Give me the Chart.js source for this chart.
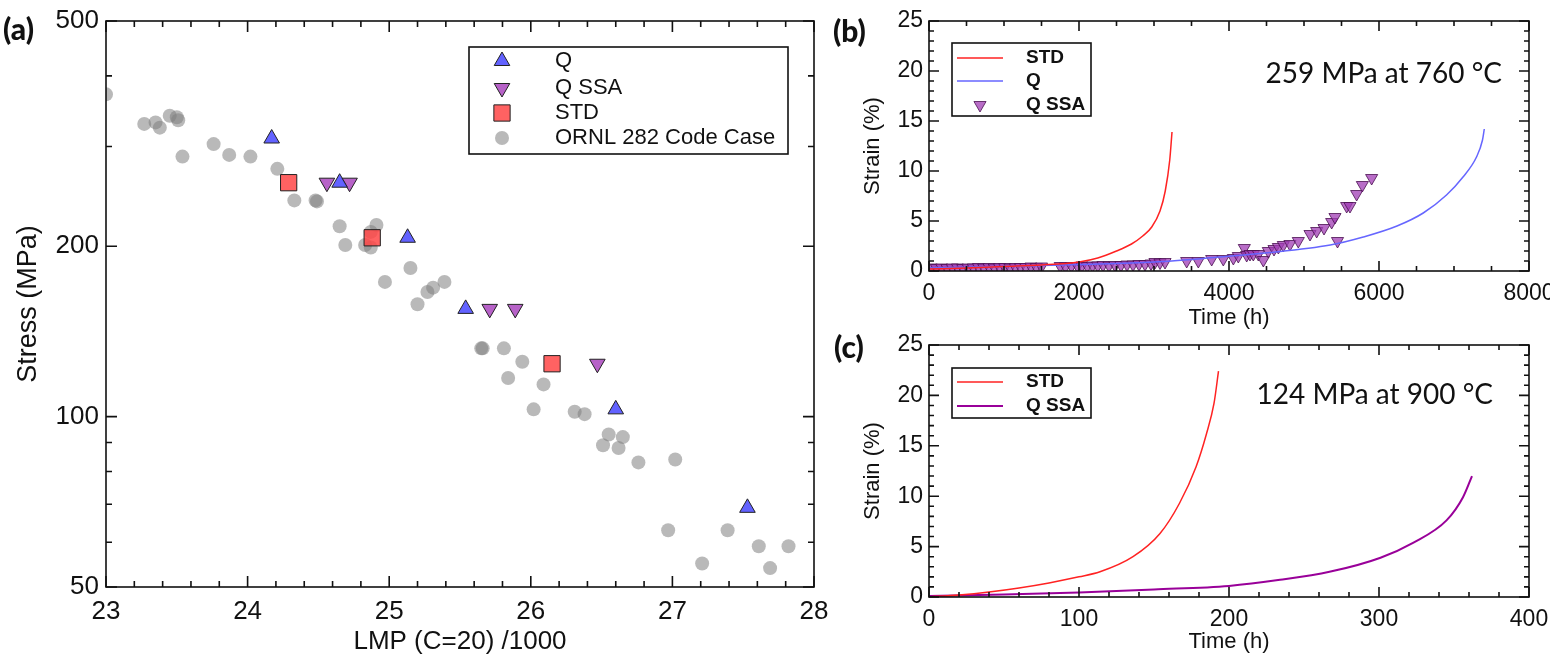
<!DOCTYPE html>
<html>
<head>
<meta charset="utf-8">
<script src="https://cdn.jsdelivr.net/npm/chart.js@4.4.1/dist/chart.umd.min.js"></script>
<style>
  body { margin: 0; background: #fff; width: 1550px; height: 660px; position: relative; overflow: hidden; }
  .panel { position: absolute; }
  .tag { position: absolute; font-family: Lato, "Open Sans", sans-serif; font-weight: 900; font-size: 30px; line-height: 1; color: #111; }
  .note { position: absolute; font-family: Lato, "Open Sans", sans-serif; font-size: 28px; line-height: 1; color: #111; white-space: nowrap; }
</style>
</head>
<body>
<div class="panel" style="left:0;top:0;width:830px;height:660px"><canvas id="chartA"></canvas></div>
<div class="panel" style="left:830px;top:0;width:720px;height:330px"><canvas id="chartB"></canvas></div>
<div class="panel" style="left:830px;top:330px;width:720px;height:330px"><canvas id="chartC"></canvas></div>
<div class="tag" style="left:3px;top:13px">(a)</div>
<div class="tag" style="left:833px;top:15px">(b)</div>
<div class="tag" style="left:834px;top:331px">(c)</div>
<div class="note" style="right:48px;top:58px">259 MPa at 760 °C</div>
<div class="note" style="right:57px;top:379px">124 MPa at 900 °C</div>
<script>
// ---- panel (a): stress vs LMP ----
const lmpTicks = [23, 24, 25, 26, 27, 28];
const stressTicks = [50, 100, 200, 500];

const qLmp = [24.17, 24.65, 25.13, 25.54, 26.60, 27.53];
const qStress = [310, 259, 207, 155, 103, 69];

const qssaLmp = [24.56, 24.72, 25.71, 25.89, 26.47];
const qssaStress = [259, 259, 155, 155, 124];

const stdLmp = [24.29, 24.88, 26.15];
const stdStress = [259, 207, 124];

const ornlLmp = [23.00, 23.27, 23.35, 23.38, 23.45, 23.50, 23.51, 23.54, 23.76, 23.87,
  24.02, 24.21, 24.33, 24.48, 24.49, 24.65, 24.69, 24.83, 24.87, 24.91, 24.87, 25.15,
  24.97, 25.20, 25.27, 25.31, 25.39, 25.65, 25.66, 25.81, 25.94, 25.84, 26.09, 26.02,
  26.31, 26.38, 26.55, 26.65, 26.51, 26.62, 26.76, 27.02, 26.97, 27.39, 27.21, 27.61,
  27.69, 27.82];
const ornlStress = [371, 329, 331, 324, 340, 338, 334, 288, 303, 290,
  288, 274, 241, 241, 240, 217, 201, 201, 199, 218, 212, 183,
  173, 158, 166, 169, 173, 132, 132, 132, 125, 117, 114, 103,
  102, 101, 93, 92, 89, 88, 83, 84, 63, 63, 55, 59,
  54, 59];

// ---- panel (b): 259 MPa at 760 C ----
const bTimeTicks = [0, 2000, 4000, 6000, 8000];
const strainTicks = [0, 5, 10, 15, 20, 25];

const bStdTime = [0, 500, 1000, 1500, 2000, 2250, 2500, 2700, 2850, 2970, 3080, 3150, 3210, 3240];
const bStdStrain = [0.2, 0.3, 0.45, 0.6, 0.9, 1.3, 2.0, 2.7, 3.5, 4.4, 6.0, 8.0, 11.1, 13.9];

const bQTime = [0, 1000, 2000, 3000, 3800, 4480, 5350, 5790, 6240, 6590, 6900, 7120, 7300, 7380, 7404];
const bQStrain = [0.3, 0.45, 0.65, 0.9, 1.35, 1.8, 2.6, 3.4, 4.5, 5.8, 7.6, 9.4, 11.4, 13.1, 14.2];

const bQssaTime = [30, 100, 170, 240, 310, 380, 450, 520, 590, 660, 730, 800, 870, 940,
  1010, 1080, 1150, 1220, 1290, 1360, 1430, 1500, 1750, 1820, 1900, 1980,
  2040, 2110, 2180, 2250, 2320, 2400, 2480, 2560, 2640, 2720, 2800, 2880, 2960, 3013, 3080, 3147,
  3436, 3591, 3769, 3924, 4058, 4124, 4204, 4236, 4280, 4324, 4391, 4458, 4524, 4600, 4658,
  4724, 4813, 4924, 5080, 5169, 5267, 5369, 5413, 5447, 5569, 5613, 5702, 5778, 5902];
const bQssaStrain = [0.35, 0.3, 0.35, 0.3, 0.35, 0.35, 0.3, 0.35, 0.35, 0.4, 0.35, 0.4, 0.35, 0.4,
  0.4, 0.35, 0.4, 0.4, 0.4, 0.45, 0.4, 0.45, 0.5, 0.45, 0.5, 0.5,
  0.55, 0.5, 0.55, 0.55, 0.6, 0.55, 0.6, 0.6, 0.65, 0.65, 0.7, 0.7, 0.75, 0.9, 0.85, 0.9,
  1.0, 1.0, 1.2, 1.2, 1.3, 1.5, 2.3, 1.6, 1.7, 1.7, 1.7, 1.1, 2.0, 2.2, 2.4,
  2.6, 2.7, 3.0, 3.7, 4.0, 4.3, 4.9, 5.4, 3.0, 6.5, 6.5, 7.7, 8.6, 9.3];

// ---- panel (c): 124 MPa at 900 C ----
const cTimeTicks = [0, 100, 200, 300, 400];

const cStdTime = [0, 20, 40, 60, 80, 100, 114, 136, 154, 167, 178, 185, 190, 193];
const cStdStrain = [0, 0.2, 0.5, 0.9, 1.4, 2.0, 2.5, 4.0, 6.3, 9.3, 12.9, 16.2, 19.2, 22.4];

const cQssaTime = [0, 50, 100, 150, 200, 234, 267, 301, 323, 345, 356, 362];
const cQssaStrain = [0.1, 0.25, 0.45, 0.75, 1.1, 1.7, 2.5, 3.9, 5.4, 7.6, 9.9, 12.0];

const pts = (xs, ys) => xs.map((x, i) => ({ x: x, y: ys[i] }));
const steps = (a, b, s) => { const out = []; for (let v = a; v <= b + 1e-9; v += s) out.push(+v.toFixed(6)); return out; };

Chart.defaults.font.family = '"Liberation Sans", Arial, sans-serif';
Chart.defaults.color = '#111';

// frame with inward ticks on all four sides
const frameTicks = {
  id: 'frameTicks',
  afterDraw(chart, args, o) {
    const { ctx, chartArea: a } = chart;
    const sx = chart.scales.x, sy = chart.scales.y;
    ctx.save();
    ctx.strokeStyle = '#111';
    ctx.lineWidth = 1.6;
    ctx.strokeRect(a.left, a.top, a.right - a.left, a.bottom - a.top);
    ctx.beginPath();
    const xt = (vals, len) => vals.forEach(v => {
      const p = sx.getPixelForValue(v);
      ctx.moveTo(p, a.bottom); ctx.lineTo(p, a.bottom - len);
      ctx.moveTo(p, a.top); ctx.lineTo(p, a.top + len);
    });
    const yt = (vals, len) => vals.forEach(v => {
      const p = sy.getPixelForValue(v);
      ctx.moveTo(a.left, p); ctx.lineTo(a.left + len, p);
      ctx.moveTo(a.right, p); ctx.lineTo(a.right - len, p);
    });
    xt(o.xMajor, o.major); xt(o.xMinor, o.minor);
    yt(o.yMajor, o.major); yt(o.yMinor, o.minor);
    ctx.stroke();
    ctx.restore();
  }
};

// boxed legend drawn with each dataset's own style
const boxLegend = {
  id: 'boxLegend',
  afterDraw(chart, args, o) {
    const ctx = chart.ctx;
    ctx.save();
    ctx.lineWidth = 1.6;
    ctx.strokeStyle = '#111';
    ctx.strokeRect(o.box[0], o.box[1], o.box[2], o.box[3]);
    ctx.font = o.font;
    ctx.textBaseline = 'middle';
    chart.data.datasets.forEach((ds, i) => {
      const y = o.rows[i];
      if (ds.showLine) {
        ctx.strokeStyle = ds.borderColor;
        ctx.lineWidth = ds.borderWidth;
        ctx.beginPath();
        ctx.moveTo(o.lineX[0], y); ctx.lineTo(o.lineX[1], y);
        ctx.stroke();
      } else {
        ctx.fillStyle = ds.backgroundColor;
        ctx.strokeStyle = ds.borderColor;
        ctx.lineWidth = ds.borderWidth;
        Chart.helpers.drawPoint(ctx, {
          pointStyle: ds.pointStyle, rotation: ds.pointRotation || 0,
          radius: ds.pointRadius, borderWidth: ds.borderWidth
        }, o.markX, y);
      }
      ctx.fillStyle = '#111';
      ctx.fillText(ds.label, o.textX, y);
    });
    ctx.restore();
  }
};

function fixScale(size, horizontal) {
  return s => {
    if (horizontal) s.height = size; else s.width = size;
    s.paddingLeft = s.paddingRight = s.paddingTop = s.paddingBottom = 0;
  };
}

// ---------- chart (a) ----------
new Chart(document.getElementById('chartA'), {
  type: 'scatter',
  data: {
    datasets: [
      { label: 'Q', data: pts(qLmp, qStress), pointStyle: 'triangle', pointRadius: 9,
        backgroundColor: 'rgba(70,70,255,0.85)', borderColor: '#222', borderWidth: 1 },
      { label: 'Q SSA', data: pts(qssaLmp, qssaStress), pointStyle: 'triangle', pointRotation: 180, pointRadius: 9,
        backgroundColor: 'rgba(170,70,190,0.85)', borderColor: '#222', borderWidth: 1 },
      { label: 'STD', data: pts(stdLmp, stdStress), pointStyle: 'rect', pointRadius: 11.5,
        backgroundColor: 'rgba(255,70,70,0.85)', borderColor: '#222', borderWidth: 1 },
      { label: 'ORNL 282 Code Case', data: pts(ornlLmp, ornlStress), pointStyle: 'circle', pointRadius: 7,
        backgroundColor: 'rgba(128,128,128,0.55)', borderColor: 'rgba(0,0,0,0)', borderWidth: 0 }
    ]
  },
  options: {
    animation: false,
    responsive: true,
    maintainAspectRatio: false,
    layout: { padding: { top: 21, right: 16, left: 0, bottom: 0 } },
    plugins: {
      legend: { display: false },
      tooltip: { enabled: false },
      frameTicks: {
        major: 11, minor: 6,
        xMajor: lmpTicks, xMinor: steps(23, 28, 0.2).filter(v => !lmpTicks.includes(v)),
        yMajor: stressTicks, yMinor: [60, 70, 80, 90, 300, 400]
      },
      boxLegend: {
        box: [469, 47, 319, 107], rows: [61, 88, 113, 138],
        markX: 502, textX: 555, lineX: [480, 525], font: '22px "Liberation Sans", Arial, sans-serif'
      }
    },
    scales: {
      x: {
        type: 'linear', min: 23, max: 28,
        afterFit: fixScale(73, true),
        afterBuildTicks: s => { s.ticks = lmpTicks.map(v => ({ value: v })); },
        grid: { display: false, drawTicks: false }, border: { display: false },
        ticks: { padding: 9, font: { size: 26 }, color: '#111' },
        title: { display: true, text: 'LMP (C=20) /1000', font: { size: 26, lineHeight: 1 }, padding: { bottom: 5 }, color: '#111' }
      },
      y: {
        type: 'logarithmic', min: 50, max: 500,
        afterFit: fixScale(106, false),
        afterBuildTicks: s => { s.ticks = stressTicks.map(v => ({ value: v })); },
        grid: { display: false, drawTicks: false }, border: { display: false },
        ticks: { padding: 7, font: { size: 26 }, color: '#111', callback: v => String(v) },
        title: { display: true, text: 'Stress (MPa)', font: { size: 27, lineHeight: 1 }, padding: { top: 15 }, color: '#111' }
      }
    }
  },
  plugins: [frameTicks, boxLegend]
});

// shared options for the two strain charts
function strainOptions(xMax, xTicks, xMinorStep, top, xHeight, titlePad, legend) {
  return {
    animation: false,
    responsive: true,
    maintainAspectRatio: false,
    layout: { padding: { top: top, right: 21, left: 0, bottom: 0 } },
    plugins: {
      legend: { display: false },
      tooltip: { enabled: false },
      frameTicks: {
        major: 10, minor: 5,
        xMajor: xTicks, xMinor: steps(0, xMax, xMinorStep).filter(v => !xTicks.includes(v)),
        yMajor: strainTicks, yMinor: steps(0, 25, 1).filter(v => !strainTicks.includes(v))
      },
      boxLegend: legend
    },
    scales: {
      x: {
        type: 'linear', min: 0, max: xMax,
        afterFit: fixScale(xHeight, true),
        afterBuildTicks: s => { s.ticks = xTicks.map(v => ({ value: v })); },
        grid: { display: false, drawTicks: false }, border: { display: false },
        ticks: { padding: 9, font: { size: 23 }, color: '#111', callback: v => String(v) },
        title: { display: true, text: 'Time (h)', font: { size: 22, lineHeight: 1 }, padding: { bottom: titlePad }, color: '#111' }
      },
      y: {
        type: 'linear', min: 0, max: 25,
        afterFit: fixScale(99, false),
        afterBuildTicks: s => { s.ticks = strainTicks.map(v => ({ value: v })); },
        grid: { display: false, drawTicks: false }, border: { display: false },
        ticks: { padding: 6, font: { size: 23 }, color: '#111' },
        title: { display: true, text: 'Strain (%)', font: { size: 22, lineHeight: 1 }, padding: { top: 32 }, color: '#111' }
      }
    }
  };
}

// ---------- chart (b) ----------
new Chart(document.getElementById('chartB'), {
  type: 'scatter',
  data: {
    datasets: [
      { label: 'STD', data: pts(bStdTime, bStdStrain), showLine: true, pointRadius: 0,
        borderColor: '#ff2222', borderWidth: 1.5, cubicInterpolationMode: 'monotone' },
      { label: 'Q', data: pts(bQTime, bQStrain), showLine: true, pointRadius: 0,
        borderColor: '#6666ff', borderWidth: 1.5, cubicInterpolationMode: 'monotone' },
      { label: 'Q SSA', data: pts(bQssaTime, bQssaStrain), pointStyle: 'triangle', pointRotation: 180, pointRadius: 7,
        backgroundColor: 'rgba(160,60,180,0.75)', borderColor: '#4a1050', borderWidth: 0.8 }
    ]
  },
  options: strainOptions(8000, bTimeTicks, 500, 21, 59, 1, {
    box: [122, 43, 139, 73], rows: [58, 81, 105],
    markX: 150, textX: 196, lineX: [127, 173], font: 'bold 19px "Liberation Sans", Arial, sans-serif'
  }),
  plugins: [frameTicks, boxLegend]
});

// ---------- chart (c) ----------
new Chart(document.getElementById('chartC'), {
  type: 'scatter',
  data: {
    datasets: [
      { label: 'STD', data: pts(cStdTime, cStdStrain), showLine: true, pointRadius: 0,
        borderColor: '#ff2222', borderWidth: 1.5, cubicInterpolationMode: 'monotone' },
      { label: 'Q SSA', data: pts(cQssaTime, cQssaStrain), showLine: true, pointRadius: 0,
        borderColor: '#990099', borderWidth: 2, cubicInterpolationMode: 'monotone' }
    ]
  },
  options: strainOptions(400, cTimeTicks, 20, 15, 63, 7, {
    box: [122, 38, 139, 50], rows: [52, 76],
    markX: 150, textX: 196, lineX: [127, 173], font: 'bold 19px "Liberation Sans", Arial, sans-serif'
  }),
  plugins: [frameTicks, boxLegend]
});
</script>
</body>
</html>
